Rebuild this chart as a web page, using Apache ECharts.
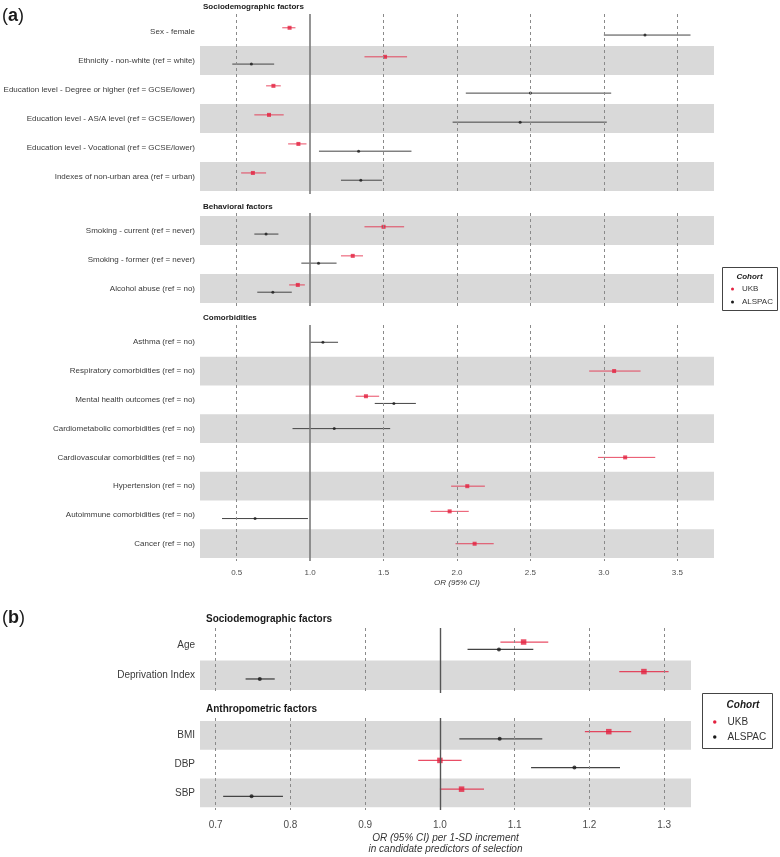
<!DOCTYPE html>
<html>
<head>
<meta charset="utf-8">
<script src="https://cdn.jsdelivr.net/npm/echarts@6/dist/echarts.min.js"></script>
<style>html,body{margin:0;padding:0;background:#fff}#c{width:780px;height:857px}</style>
</head>
<body>
<div id="c"></div>
<script>
// ---------- DATA: [estimate, lower CI, upper CI]; null = not estimated ----------
const aSocioLabels = ['Sex - female','Ethnicity - non-white (ref = white)','Education level - Degree or higher (ref = GCSE/lower)','Education level - AS/A level (ref = GCSE/lower)','Education level - Vocational (ref = GCSE/lower)','Indexes of non-urban area (ref = urban)'];
const aSocioUKB = [[0.86,0.81,0.90],[1.51,1.37,1.66],[0.75,0.70,0.80],[0.72,0.62,0.82],[0.92,0.85,0.975],[0.61,0.53,0.70]];
const aSocioALSPAC = [[3.28,3.00,3.59],[0.60,0.47,0.755],[2.50,2.06,3.05],[2.43,1.97,3.02],[1.33,1.06,1.69],[1.345,1.21,1.49]];
const aSocioBands = [1,3,5];

const aBehavLabels = ['Smoking - current (ref = never)','Smoking - former (ref = never)','Alcohol abuse (ref = no)'];
const aBehavUKB = [[1.50,1.37,1.64],[1.29,1.21,1.36],[0.916,0.857,0.964]];
const aBehavALSPAC = [[0.70,0.62,0.784],[1.057,0.94,1.18],[0.746,0.64,0.875]];
const aBehavBands = [0,2];

const aComorbLabels = ['Asthma (ref = no)','Respiratory comorbidities (ref = no)','Mental health outcomes (ref = no)','Cardiometabolic comorbidities (ref = no)','Cardiovascular comorbidities (ref = no)','Hypertension (ref = no)','Autoimmune comorbidities (ref = no)','Cancer (ref = no)'];
const aComorbUKB = [null,[3.07,2.90,3.25],[1.38,1.31,1.47],null,[3.145,2.96,3.35],[2.07,1.96,2.19],[1.95,1.82,2.08],[2.12,1.99,2.25]];
const aComorbALSPAC = [[1.087,1.0,1.19],null,[1.57,1.44,1.72],[1.164,0.88,1.545],null,null,[0.625,0.40,0.985],null];
const aComorbBands = [1,3,5,7];

const aTicks = [0.5,1.0,1.5,2.0,2.5,3.0,3.5];

const bSocioLabels = ['Age','Deprivation Index'];
const bSocioUKB = [[1.112,1.081,1.145],[1.273,1.24,1.306]];
const bSocioALSPAC = [[1.079,1.037,1.125],[0.759,0.74,0.779]];
const bSocioBands = [1];

const bAnthroLabels = ['BMI','DBP','SBP'];
const bAnthroUKB = [[1.226,1.194,1.256],[1.0,0.971,1.029],[1.029,1.0,1.059]];
const bAnthroALSPAC = [[1.080,1.026,1.137],[1.18,1.122,1.241],[0.748,0.71,0.79]];
const bAnthroBands = [0,2];

const bTicks = [0.7,0.8,0.9,1.0,1.1,1.2,1.3];

// ---------- STYLE ----------
const RED = '#E3213F', RED_LINE = 'rgba(227,33,63,0.8)';
const BLK = '#1a1a1a', BLK_LINE = '#444444';
const FONT = '"Liberation Sans", Arial, sans-serif';
const panels = {
  a: {min:0.25, max:3.75, ticks:aTicks, fs:8, ukbSize:4, alsSize:3, lw:1, dodge:0.125,
      xName:'OR (95% CI)', nameGap:17, labelMargin:8},
  b: {min:0.679, max:1.336, ticks:bTicks, fs:10, ukbSize:5.5, alsSize:4, lw:1.3, dodge:0.125,
      xName:'OR (95% CI) per 1-SD increment\nin candidate predictors of selection', nameGap:22, labelMargin:10}
};
const sections = [
  {p:'a', grid:{left:200,right:66,top:14,height:180}, labels:aSocioLabels, ukb:aSocioUKB, als:aSocioALSPAC, bands:aSocioBands, last:false},
  {p:'a', grid:{left:200,right:66,top:213,height:93}, labels:aBehavLabels, ukb:aBehavUKB, als:aBehavALSPAC, bands:aBehavBands, last:false},
  {p:'a', grid:{left:200,right:66,top:325,height:236}, labels:aComorbLabels, ukb:aComorbUKB, als:aComorbALSPAC, bands:aComorbBands, last:true},
  {p:'b', grid:{left:200,right:89,top:628,height:65}, labels:bSocioLabels, ukb:bSocioUKB, als:bSocioALSPAC, bands:bSocioBands, last:false},
  {p:'b', grid:{left:200,right:89,top:718,height:92}, labels:bAnthroLabels, ukb:bAnthroUKB, als:bAnthroALSPAC, bands:bAnthroBands, last:true}
];

const grid = [], xAxis = [], yAxis = [], series = [];
function ciRender(color, lw){
  return function(params, api){
    const a = api.coord([api.value(0), api.value(2)]);
    const b = api.coord([api.value(1), api.value(2)]);
    return {type:'line', shape:{x1:a[0],y1:a[1],x2:b[0],y2:b[1]}, style:{stroke:color, lineWidth:lw}};
  };
}
sections.forEach((s, gi) => {
  const P = panels[s.p];
  const n = s.labels.length;
  grid.push(Object.assign({containLabel:false}, s.grid));
  xAxis.push({
    type:'value', gridIndex:gi, min:P.min, max:P.max,
    axisLine:{show:false}, axisTick:{show:false}, splitLine:{show:false},
    axisLabel:{show:s.last, customValues:P.ticks, formatter:v=>Number(v).toFixed(1),
      fontSize:P.fs, color:'#4D4D4D', fontFamily:FONT, margin:P.labelMargin},
    name:s.last ? P.xName : '', nameLocation:'middle', nameGap:P.nameGap,
    nameTextStyle:{fontSize:P.fs, fontStyle:'italic', color:'#333', fontFamily:FONT, lineHeight:P.fs+1.5}
  });
  yAxis.push({
    type:'value', gridIndex:gi, inverse:true, min:-0.6, max:n-0.4,
    axisLine:{show:false}, axisTick:{show:false}, splitLine:{show:false},
    axisLabel:{customValues:s.labels.map((_,i)=>i), formatter:v=>s.labels[Math.round(v)] || '',
      fontSize:P.fs, color:'#3a3a3a', fontFamily:FONT, margin:5}
  });
  // grey bands
  series.push({
    type:'scatter', xAxisIndex:gi, yAxisIndex:gi, data:[], silent:true, z:1,
    markArea:{silent:true, itemStyle:{color:'#D9D9D9'},
      data:s.bands.map(i=>[{yAxis:i-0.5},{yAxis:i+0.5}])}
  });
  // reference lines
  series.push({
    type:'scatter', xAxisIndex:gi, yAxisIndex:gi, data:[], silent:true, z:2,
    markLine:{silent:true, symbol:'none', label:{show:false}, animation:false,
      data:P.ticks.map(t => t === 1
        ? {xAxis:t, lineStyle:{type:'solid', color:s.p==='a'?'#7a7a7a':'#555', width:s.p==='a'?1.6:1.4}}
        : {xAxis:t, lineStyle:{type:[3,3], color:'#8a8a8a', width:1}})}
  });
  const ukbCI = [], alsCI = [], ukbPt = [], alsPt = [];
  for (let i=0;i<n;i++){
    const u = s.ukb[i], a = s.als[i];
    const both = u && a;
    if (u){ const y = both ? i-P.dodge : i; ukbCI.push([u[1],u[2],y]); ukbPt.push([u[0],y]); }
    if (a){ const y = both ? i+P.dodge : i; alsCI.push([a[1],a[2],y]); alsPt.push([a[0],y]); }
  }
  series.push({type:'custom', name:'UKB', xAxisIndex:gi, yAxisIndex:gi, z:3, silent:true,
    renderItem:ciRender(RED_LINE, P.lw), encode:{x:[0,1], y:2}, data:ukbCI, itemStyle:{color:RED}});
  series.push({type:'custom', name:'ALSPAC', xAxisIndex:gi, yAxisIndex:gi, z:3, silent:true,
    renderItem:ciRender(BLK_LINE, P.lw), encode:{x:[0,1], y:2}, data:alsCI, itemStyle:{color:BLK}});
  series.push({type:'scatter', name:'UKB', xAxisIndex:gi, yAxisIndex:gi, z:4, silent:true,
    symbol:'rect', symbolSize:P.ukbSize, data:ukbPt, itemStyle:{color:RED}});
  series.push({type:'scatter', name:'ALSPAC', xAxisIndex:gi, yAxisIndex:gi, z:4, silent:true,
    symbol:'circle', symbolSize:P.alsSize, data:alsPt, itemStyle:{color:BLK}});
});

function txt(x, y, text, fs, extra){
  return {type:'text', x, y, style:Object.assign({text, fontSize:fs, fontFamily:FONT, fill:'#1a1a1a',
    textVerticalAlign:'middle'}, extra||{})};
}
function panelTag(x, y, letter){
  return {type:'text', x, y, style:{text:'{p|(}{l|' + letter + '}{p|)}', fontFamily:FONT, fill:'#1a1a1a',
    textVerticalAlign:'middle', rich:{p:{fontSize:18, fontFamily:FONT}, l:{fontSize:18, fontWeight:'bold', fontFamily:FONT}}}};
}
const graphic = [
  panelTag(2, 16, 'a'),
  panelTag(2, 618, 'b'),
  txt(203, 7, 'Sociodemographic factors', 8, {fontWeight:'bold'}),
  txt(203, 207, 'Behavioral factors', 8, {fontWeight:'bold'}),
  txt(203, 318, 'Comorbidities', 8, {fontWeight:'bold'}),
  txt(206, 619, 'Sociodemographic factors', 10, {fontWeight:'bold'}),
  txt(206, 709, 'Anthropometric factors', 10, {fontWeight:'bold'}),
  {type:'rect', shape:{x:722.5, y:267.5, width:55, height:43}, style:{fill:'#fff', stroke:'#444', lineWidth:1}},
  txt(749.5, 277, 'Cohort', 8, {fontWeight:'bold', fontStyle:'italic', textAlign:'center'}),
  {type:'rect', shape:{x:702.5, y:693.5, width:70, height:55}, style:{fill:'#fff', stroke:'#444', lineWidth:1}},
  txt(743, 705, 'Cohort', 10, {fontWeight:'bold', fontStyle:'italic', textAlign:'center'})
];

const legend = [
  {orient:'vertical', left:731, top:285, itemWidth:3, itemHeight:3, itemGap:5, padding:0,
   textStyle:{fontSize:8, color:'#333', fontFamily:FONT, padding:[0,0,0,3]}, selectedMode:false,
   data:[{name:'UKB', icon:'circle', itemStyle:{color:RED}}, {name:'ALSPAC', icon:'circle', itemStyle:{color:BLK}}]},
  {orient:'vertical', left:713, top:717, itemWidth:3.5, itemHeight:3.5, itemGap:5, padding:0,
   textStyle:{fontSize:10, color:'#333', fontFamily:FONT, padding:[0,0,0,6]}, selectedMode:false,
   data:[{name:'UKB', icon:'circle', itemStyle:{color:RED}}, {name:'ALSPAC', icon:'circle', itemStyle:{color:BLK}}]}
];

const chart = echarts.init(document.getElementById('c'), null, {renderer:'canvas'});
chart.setOption({animation:false, backgroundColor:'#fff', grid, xAxis, yAxis, series, graphic, legend});
</script>
</body>
</html>
